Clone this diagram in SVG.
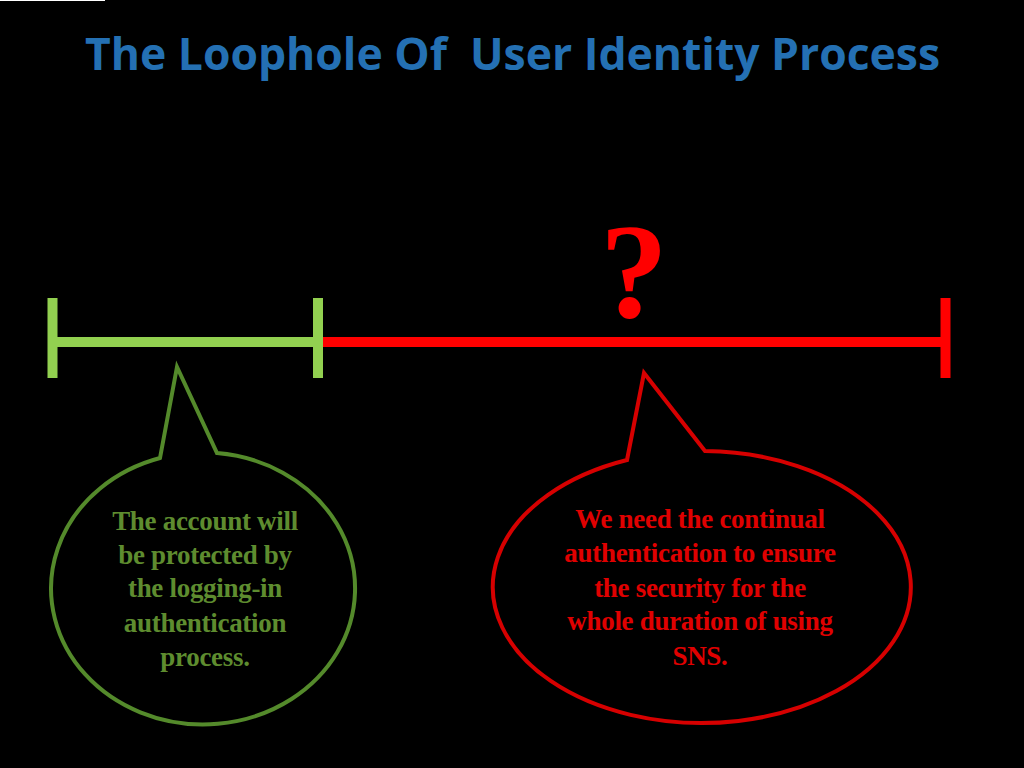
<svg xmlns="http://www.w3.org/2000/svg" width="1024" height="768" viewBox="0 0 1024 768">
<style>
.title{font-family:"Open Sans","Liberation Sans",sans-serif;font-weight:bold;font-size:44px;fill:#2470B3;white-space:pre}
.gtxt{font-family:"Liberation Serif",serif;font-weight:bold;font-size:27px;letter-spacing:-0.3px;fill:#5E8C2F;text-anchor:middle}
.rtxt{font-family:"Liberation Serif",serif;font-weight:bold;font-size:27px;letter-spacing:-0.3px;fill:#E00000;text-anchor:middle}
.gline{stroke:#92D050;stroke-width:10;fill:none}
.rline{stroke:#FF0000;stroke-width:10;fill:none}
.gcall{stroke:#548A2B;stroke-width:4;fill:none}
.rcall{stroke:#D60000;stroke-width:4;fill:none}
</style>
<rect x="0" y="0" width="1024" height="768" fill="#000"/>
<line x1="0" y1="0.5" x2="105" y2="0.5" stroke="#fff" stroke-width="1"/>
<text class="title" x="85" y="70" textLength="855" lengthAdjust="spacingAndGlyphs" xml:space="preserve">The Loophole Of  User Identity Process</text>
<g id="connectors">
<line class="rline" x1="318" y1="342" x2="945" y2="342"/>
<line class="rline" x1="945.5" y1="298" x2="945.5" y2="378"/>
<line class="gline" x1="52" y1="342" x2="318" y2="342"/>
<line class="gline" x1="52.5" y1="298" x2="52.5" y2="378"/>
<line class="gline" x1="318" y1="298" x2="318" y2="378"/>
</g>
<g id="question">
<text x="634" y="317" font-family="Liberation Serif,serif" font-weight="bold" font-size="136" fill="#FF0000" text-anchor="middle">?</text>
</g>
<g id="green-callout">
<path class="gcall" d="M160,458 L177,367 L217,453 A152,136 0 1 1 160,458 Z"/>
<text class="gtxt" x="205" y="530">The account will</text>
<text class="gtxt" x="205" y="564">be protected by</text>
<text class="gtxt" x="205" y="597">the logging-in</text>
<text class="gtxt" x="205" y="632">authentication</text>
<text class="gtxt" x="205" y="666">process.</text>
</g>
<g id="red-callout">
<path class="rcall" d="M627,460 L644,373 L705,451 A209,136 0 1 1 627,460 Z"/>
<text class="rtxt" x="700" y="528">We need the continual</text>
<text class="rtxt" x="700" y="562">authentication to ensure</text>
<text class="rtxt" x="700" y="597">the security for the</text>
<text class="rtxt" x="700" y="630">whole duration of using</text>
<text class="rtxt" x="700" y="665">SNS.</text>
</g>
</svg>
